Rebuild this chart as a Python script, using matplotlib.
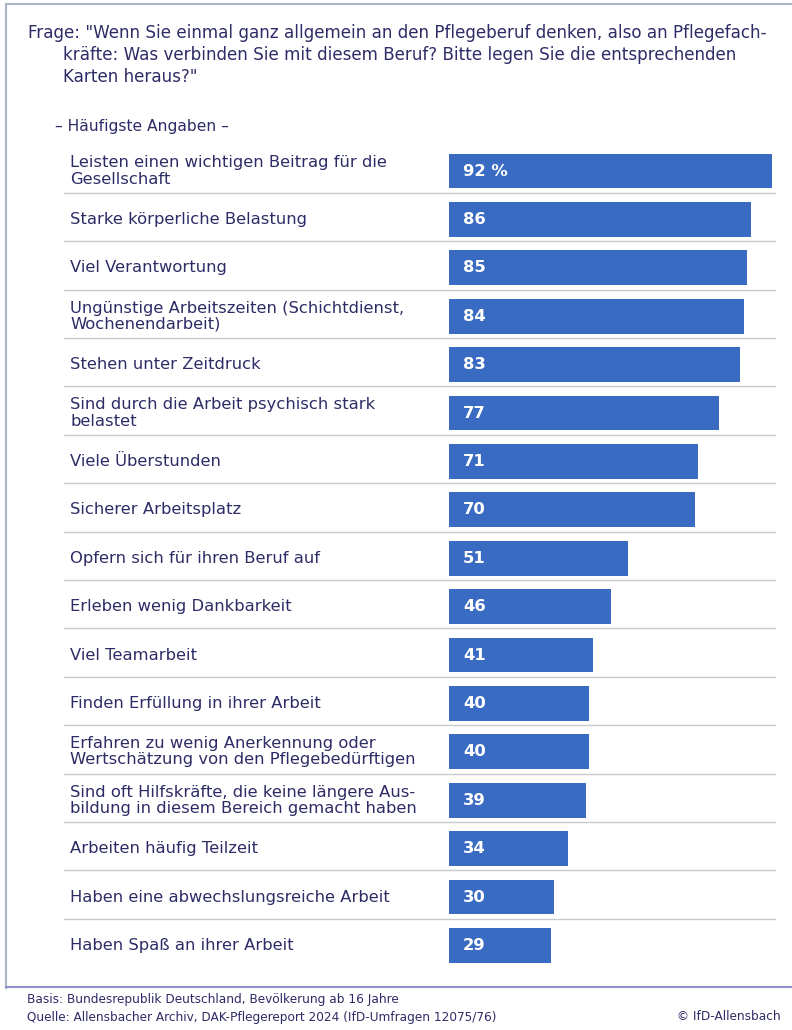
import matplotlib
matplotlib.use("Agg")
import matplotlib.pyplot as plt
from matplotlib.lines import Line2D
from matplotlib.transforms import blended_transform_factory

labels = [
    "Leisten einen wichtigen Beitrag für die\nGesellschaft",
    "Starke körperliche Belastung",
    "Viel Verantwortung",
    "Ungünstige Arbeitszeiten (Schichtdienst,\nWochenendarbeit)",
    "Stehen unter Zeitdruck",
    "Sind durch die Arbeit psychisch stark\nbelastet",
    "Viele Überstunden",
    "Sicherer Arbeitsplatz",
    "Opfern sich für ihren Beruf auf",
    "Erleben wenig Dankbarkeit",
    "Viel Teamarbeit",
    "Finden Erfüllung in ihrer Arbeit",
    "Erfahren zu wenig Anerkennung oder\nWertschätzung von den Pflegebedürftigen",
    "Sind oft Hilfskräfte, die keine längere Aus-\nbildung in diesem Bereich gemacht haben",
    "Arbeiten häufig Teilzeit",
    "Haben eine abwechslungsreiche Arbeit",
    "Haben Spaß an ihrer Arbeit",
]
values = [92, 86, 85, 84, 83, 77, 71, 70, 51, 46, 41, 40, 40, 39, 34, 30, 29]
value_texts = ["92 %"] + [str(v) for v in values[1:]]

title_lines = [
    'Frage: "Wenn Sie einmal ganz allgemein an den Pflegeberuf denken, also an Pflegefach-',
    'kräfte: Was verbinden Sie mit diesem Beruf? Bitte legen Sie die entsprechenden',
    'Karten heraus?"',
]
subtitle = "– Häufigste Angaben –"
footer_left = [
    "Basis: Bundesrepublik Deutschland, Bevölkerung ab 16 Jahre",
    "Quelle: Allensbacher Archiv, DAK-Pflegereport 2024 (IfD-Umfragen 12075/76)",
]
footer_right = "© IfD-Allensbach"

FONT = "DejaVu Sans"
TXT = "#2e2c66"
BAR = "#3a6bc3"
SEP = "#c9c9d0"
W, H = 792, 1030

fig = plt.figure(figsize=(W / 100, H / 100), dpi=100)
fig.patch.set_facecolor("white")
renderer = fig.canvas.get_renderer()


def fit(text, target_px, weight="normal"):
    t = fig.text(0, 0, text, fontsize=10, family=FONT, weight=weight)
    w = t.get_window_extent(renderer).width
    t.remove()
    return 10 * target_px / w


def fx(px):
    return px / W


def fy(py):
    return 1 - py / H


n = len(values)
row_h = 48.4
top_center = 171
ax_top = top_center - row_h / 2
ax_bot = top_center + row_h * (n - 1) + row_h / 2
x0_px, x92_px = 449, 772
ax = fig.add_axes([fx(x0_px), fy(ax_bot), (x92_px - x0_px) / W, (ax_bot - ax_top) / H])
ax.set_xlim(0, 92)
ax.set_ylim(n - 0.5, -0.5)
ax.axis("off")

ypos = list(range(n))
ax.barh(ypos, values, height=0.72, color=BAR, left=0)

lab_fs = fit("Leisten einen wichtigen Beitrag für die", 317)
val_fs = fit("92 %", 45, weight="bold")
trans = blended_transform_factory(fig.transFigure, ax.transData)
for i, (lab, vt) in enumerate(zip(labels, value_texts)):
    ax.text(fx(70), i, lab, transform=trans, ha="left", va="center",
            fontsize=lab_fs, color=TXT, family=FONT, linespacing=1.1)
    ax.text(fx(463), i, vt, transform=trans, ha="left", va="center",
            fontsize=val_fs, color="white", family=FONT, weight="bold")

for i in range(n - 1):
    ln = Line2D([fx(64), fx(775)], [i + 0.45, i + 0.45], transform=trans,
                color=SEP, lw=1.0, clip_on=False)
    fig.add_artist(ln)

# title
t_fs = fit(title_lines[0], 742)
fig.text(fx(28), fy(33), title_lines[0], fontsize=t_fs, color=TXT, family=FONT, va="center")
fig.text(fx(63), fy(55), title_lines[1], fontsize=t_fs, color=TXT, family=FONT, va="center")
fig.text(fx(63), fy(77), title_lines[2], fontsize=t_fs, color=TXT, family=FONT, va="center")

s_fs = fit(subtitle, 173)
fig.text(fx(55), fy(126), subtitle, fontsize=s_fs, color=TXT, family=FONT, va="center")

f_fs = fit(footer_left[1], 470)
fig.text(fx(27), fy(1000), footer_left[0], fontsize=f_fs, color=TXT, family=FONT, va="center")
fig.text(fx(27), fy(1017), footer_left[1], fontsize=f_fs, color=TXT, family=FONT, va="center")
fig.text(fx(781), fy(1017), footer_right, fontsize=f_fs, color=TXT, family=FONT, va="center", ha="right")

# frame and footer rule
fig.add_artist(Line2D([fx(6), 1], [fy(4), fy(4)], color="#a9b6c9", lw=1.5))
fig.add_artist(Line2D([fx(6), fx(6)], [fy(4), fy(988)], color="#a9b6c9", lw=1.5))
fig.add_artist(Line2D([fx(6), 1], [fy(987), fy(987)], color="#8f8fd0", lw=1.5))

fig.savefig("out.png", dpi=100, facecolor="white")
